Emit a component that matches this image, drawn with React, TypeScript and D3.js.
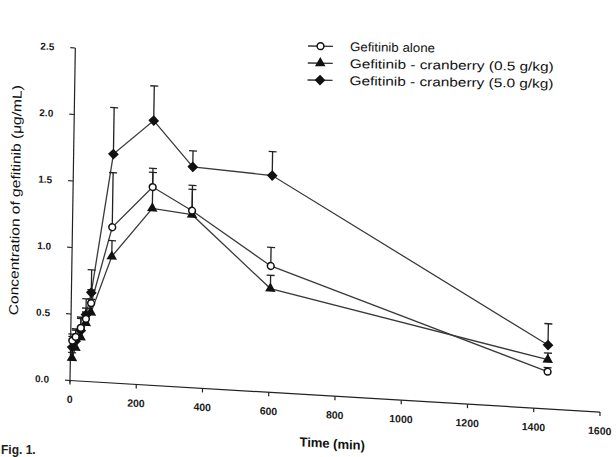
import React from "react";
import * as d3 from "d3";

const TIMES = [5, 15, 30, 45, 60, 120, 240, 360, 600, 1440];
const ALONE = [0.3, 0.33, 0.4, 0.47, 0.59, 1.17, 1.49, 1.33, 0.95, 0.28];
const ALONE_SD = [0.05, 0.06, 0.07, 0.08, 0.1, 0.41, 0.14, 0.19, 0.14, 0.03];
const LOW = [0.17, 0.25, 0.33, 0.44, 0.52, 0.95, 1.33, 1.3, 0.78, 0.37];
const LOW_SD = [0.04, 0.05, 0.06, 0.08, 0.1, 0.12, 0.27, 0.19, 0.1, 0.05];
const HIGH = [0.25, 0.3, 0.38, 0.5, 0.67, 1.72, 1.99, 1.66, 1.63, 0.48];
const HIGH_SD = [0.08, 0.08, 0.1, 0.12, 0.17, 0.35, 0.26, 0.12, 0.18, 0.16];

const SERIES_NAMES = [
  "Gefitinib alone",
  "Gefitinib - cranberry (0.5 g/kg)",
  "Gefitinib - cranberry (5.0 g/kg)",
];
const X_TICKS = [0, 200, 400, 600, 800, 1000, 1200, 1400, 1600];
const Y_TICKS = [0, 0.5, 1.0, 1.5, 2.0, 2.5];
const X_TITLE = "Time (min)";
const Y_TITLE = "Concentration of gefitinib (\u03bcg/mL)";
const CAPTION = "Fig. 1.";

type Kind = "circle" | "triangle" | "diamond";

const FONT = "'Liberation Sans', Arial, sans-serif";

function Marker({ kind, x, y }: { kind: Kind; x: number; y: number }) {
  if (kind === "circle") {
    return <circle cx={x} cy={y} r={3.4} fill="#fff" stroke="#111" strokeWidth={1.5} />;
  }
  if (kind === "triangle") {
    const p = d3.symbol().type(d3.symbolTriangle).size(48)();
    return <path d={p || ""} transform={`translate(${x},${y})`} fill="#111" />;
  }
  const p = d3.symbol().type(d3.symbolSquare).size(58)();
  return <path d={p || ""} transform={`translate(${x},${y}) rotate(45)`} fill="#111" />;
}

export default function App() {
  const x = d3.scaleLinear().domain([0, 1600]).range([0, 530]);
  const y = d3.scaleLinear().domain([0, 2.5]).range([0, -332.5]);
  const fmt = d3.format(".1f");

  const series: { kind: Kind; vals: number[]; sd: number[] }[] = [
    { kind: "diamond", vals: HIGH, sd: HIGH_SD },
    { kind: "triangle", vals: LOW, sd: LOW_SD },
    { kind: "circle", vals: ALONE, sd: ALONE_SD },
  ];

  const line = d3
    .line<[number, number]>()
    .x((d) => x(d[0]))
    .y((d) => y(d[1]));

  const legendKinds: Kind[] = ["circle", "triangle", "diamond"];
  const legendWidths = [85, 204, 204];

  return (
    <svg
      width={616}
      height={457}
      style={{ position: "absolute", left: 0, top: 0, background: "#fff" }}
      fontFamily={FONT}
    >
      <g transform="matrix(1,0.0595,-0.016,1,70,380.5)">
        {/* axes */}
        <line x1={x(0)} y1={0} x2={x(1600)} y2={0} stroke="#222" strokeWidth={1.2} />
        <line x1={0} y1={y(0) + 2} x2={0} y2={y(2.5)} stroke="#222" strokeWidth={1.2} />
        {X_TICKS.map((t) => (
          <g key={t}>
            <line x1={x(t)} x2={x(t)} y1={0} y2={4} stroke="#222" strokeWidth={1.2} />
            <text
              x={x(t)}
              y={22.5}
              textAnchor="middle"
              fontSize={10.5}
              fontWeight="bold"
              fill="#1a1a1a"
            >
              {t}
            </text>
          </g>
        ))}
        {Y_TICKS.map((t) => (
          <g key={t}>
            <line x1={-5} x2={0} y1={y(t)} y2={y(t)} stroke="#222" strokeWidth={1.2} />
            <text
              x={-21}
              y={y(t) + 3.5}
              textAnchor="end"
              fontSize={10}
              fontWeight="bold"
              fill="#1a1a1a"
            >
              {fmt(t)}
            </text>
          </g>
        ))}
        <text
          x={x(800) - 2}
          y={52}
          textAnchor="middle"
          fontSize={13}
          fontWeight="bold"
          fill="#111"
        >
          {X_TITLE}
        </text>
        <text
          transform={`translate(-53,${y(1.33)}) rotate(-90)`}
          textAnchor="middle"
          fontSize={13}
          textLength={230}
          lengthAdjust="spacingAndGlyphs"
          fill="#111"
        >
          {Y_TITLE}
        </text>

        {/* lines */}
        {series.map((s) => (
          <path
            key={s.kind + "l"}
            d={line(TIMES.map((t, i) => [t, s.vals[i]] as [number, number])) || ""}
            fill="none"
            stroke="#3a3a3a"
            strokeWidth={1.3}
          />
        ))}
        {/* error bars */}
        {series.map((s) =>
          TIMES.map((t, i) => (
            <g key={s.kind + "e" + i} stroke="#222" strokeWidth={1.3}>
              <line x1={x(t)} x2={x(t)} y1={y(s.vals[i])} y2={y(s.vals[i] + s.sd[i])} />
              <line
                x1={x(t) - 4}
                x2={x(t) + 4}
                y1={y(s.vals[i] + s.sd[i])}
                y2={y(s.vals[i] + s.sd[i])}
              />
            </g>
          ))
        )}
        {/* markers */}
        {series.map((s) =>
          TIMES.map((t, i) => (
            <Marker key={s.kind + "m" + i} kind={s.kind} x={x(t)} y={y(s.vals[i])} />
          ))
        )}
      </g>

      {/* legend */}
      <g transform="translate(308,46) rotate(0.8)">
        {SERIES_NAMES.map((name, i) => (
          <g key={name} transform={`translate(0,${i * 17})`}>
            <line x1={0} x2={25} y1={0} y2={0} stroke="#333" strokeWidth={1.3} />
            <Marker kind={legendKinds[i]} x={12.5} y={0} />
            <text
              x={42}
              y={4.5}
              fontSize={12.5}
              textLength={legendWidths[i]}
              lengthAdjust="spacingAndGlyphs"
              fill="#111"
            >
              {name}
            </text>
          </g>
        ))}
      </g>

      <text x={1} y={454} fontSize={12} fontWeight="bold" fill="#222">
        {CAPTION}
      </text>
    </svg>
  );
}
